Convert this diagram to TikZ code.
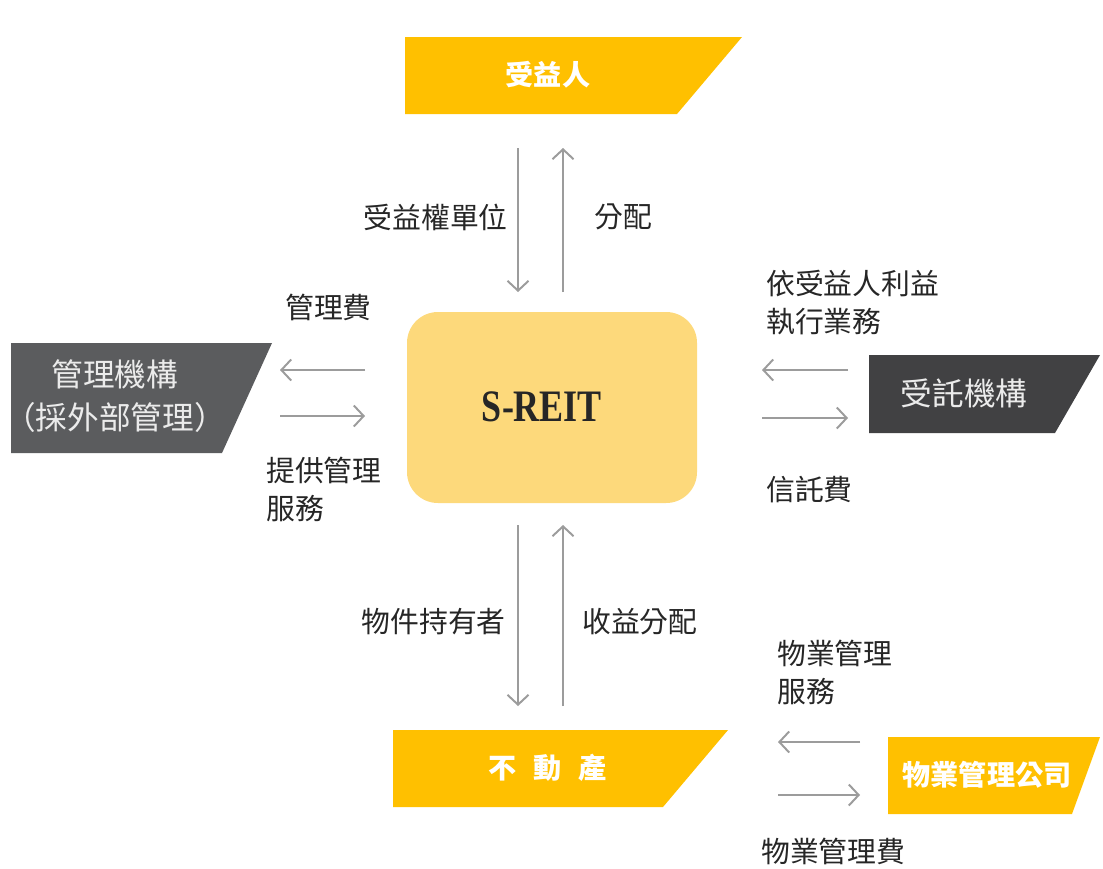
\documentclass[tikz,border=0pt]{standalone}
\usepackage{fontspec}
\setmainfont{Liberation Serif}
\newfontfamily\cjk{Noto Sans CJK TC}
\usetikzlibrary{arrows.meta}
\definecolor{reityellow}{HTML}{FFC000}
\definecolor{reitpale}{HTML}{FDD97B}
\definecolor{mgrgray}{HTML}{5B5C5E}
\definecolor{trustgray}{HTML}{414143}
\definecolor{flowgray}{HTML}{9C9C9C}
\definecolor{inkdark}{HTML}{262626}
\tikzset{
  flow/.style={flowgray,line width=1.4pt,-{Straight Barb[length=7pt,width=15pt]}},
  lbl/.style={text=inkdark,font=\cjk\fontsize{20.5}{27}\selectfont,inner sep=0pt,align=left},
  boxtext/.style={text=white,font=\cjk\bfseries\fontsize{20}{27}\selectfont,inner sep=0pt},
  graytext/.style={text=white!92!black,font=\cjk\fontsize{22.5}{31}\selectfont,inner sep=0pt,align=center}
}
% slanted box: left, top, right, bottom, cut, colour
\newcommand{\slantbox}[6]{\fill[#6] (#1,#2) -- (#3,#2) -- ({#3-#5},#4) -- (#1,#4) -- cycle;}
\begin{document}
\begin{tikzpicture}[x=0.025cm,y=-0.025cm]
  \useasboundingbox (0,0) rectangle (1103,868);
  %% boxes
  \slantbox{405}{37}{742}{114}{65}{reityellow}
  \node[boxtext] (benef) at (548,75) {受益人};
  \slantbox{11}{343}{272}{453}{50}{mgrgray}
  \node[graytext] (mgr) at (115,396) {管理機構\\（採外部管理）};
  \slantbox{869}{355}{1100}{433}{45}{trustgray}
  \node[graytext] (trustee) at (964,393) {受託機構};
  \slantbox{393}{730}{728}{807}{65}{reityellow}
  \node[boxtext] (prop) at (548,768) {不\hspace{0.6em}動\hspace{0.6em}產};
  \slantbox{888}{737}{1100}{814}{28}{reityellow}
  \node[boxtext] (pmc) at (987,775) {物業管理公司};
  %% center
  \fill[reitpale,rounded corners=22] (407,312) rectangle (697,503);
  \node[text=inkdark,font=\bfseries\fontsize{32}{36}\selectfont,xscale=0.8] (reit) at (542,407) {S-REIT};
  %% arrow ends
  \coordinate (t1) at (518,148); \coordinate (t2) at (518,292);
  \coordinate (t3) at (563,292); \coordinate (t4) at (563,148);
  \coordinate (b1) at (518,525); \coordinate (b2) at (518,706);
  \coordinate (b3) at (563,706); \coordinate (b4) at (563,525);
  \coordinate (l1) at (365,370); \coordinate (l2) at (280,370);
  \coordinate (l3) at (280,416); \coordinate (l4) at (365,416);
  \coordinate (r1) at (848,370); \coordinate (r2) at (762,370);
  \coordinate (r3) at (762,418); \coordinate (r4) at (848,418);
  \coordinate (p1) at (860,742); \coordinate (p2) at (778,742);
  \coordinate (p3) at (778,795); \coordinate (p4) at (860,795);
  %% flows
  \foreach \a/\b in {t1/t2,t3/t4,b1/b2,b3/b4,l1/l2,l3/l4,r1/r2,r3/r4,p1/p2,p3/p4}
    \draw[flow] (\a) -- (\b);
  %% labels
  \node[lbl,anchor=east] (units) at (508,217) {受益權單位};
  \node[lbl,anchor=west] (dist) at (594,217) {分配};
  \node[lbl,anchor=west] (mfee) at (285,307) {管理費};
  \node[lbl,anchor=west] (msvc) at (266,489) {提供管理\\服務};
  \node[lbl,anchor=west] (duty) at (766,303) {依受益人利益\\執行業務};
  \node[lbl,anchor=west] (tfee) at (766,490) {信託費};
  \node[lbl,anchor=east] (holder) at (506,622) {物件持有者};
  \node[lbl,anchor=west] (income) at (582,622) {收益分配};
  \node[lbl,anchor=west] (psvc) at (777,672) {物業管理\\服務};
  \node[lbl,anchor=west] (pfee) at (761,851) {物業管理費};
\end{tikzpicture}
\end{document}
